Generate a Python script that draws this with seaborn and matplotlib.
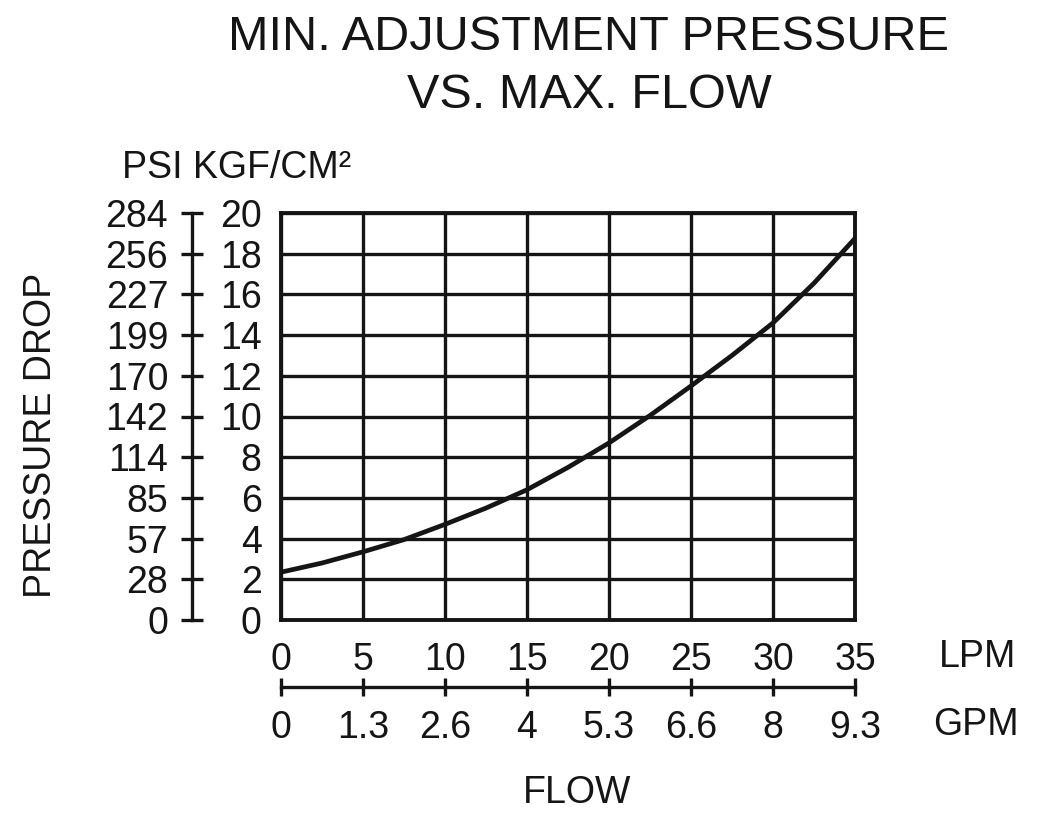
import matplotlib
matplotlib.use("Agg")
import matplotlib.pyplot as plt
import seaborn as sns

# Values
flow_lpm = [0, 2.5, 5, 7.5, 10, 12.5, 15, 17.5, 20, 22.5, 25, 27.5, 30, 32.5, 35]
pressure_kgf = [2.35, 2.8, 3.35, 3.95, 4.7, 5.5, 6.4, 7.5, 8.7, 10.05, 11.5, 13.0, 14.6, 16.55, 18.75]

lpm_ticks = [0, 5, 10, 15, 20, 25, 30, 35]
gpm_labels = ["0", "1.3", "2.6", "4", "5.3", "6.6", "8", "9.3"]
kgf_ticks = [0, 2, 4, 6, 8, 10, 12, 14, 16, 18, 20]
psi_labels = ["0", "28", "57", "85", "114", "142", "170", "199", "227", "256", "284"]

INK = "#151515"
FS = 27

sns.set_theme(style="white")
plt.rcParams["font.family"] = ["Liberation Sans", "DejaVu Sans"]

W, H = 1044, 814
fig = plt.figure(figsize=(W / 100, H / 100), dpi=100)
# plot box: x 281..855, y 213..620 (pixels)
ax = fig.add_axes([281 / W, 1 - 620 / H, (855 - 281) / W, (620 - 213) / H])

sns.lineplot(x=flow_lpm, y=pressure_kgf, ax=ax, color=INK, linewidth=3.4, zorder=5)

ax.set_xlim(0, 35)
ax.set_ylim(0, 20)
ax.set_xticks(lpm_ticks)
ax.set_yticks(kgf_ticks)
ax.grid(True, color=INK, linewidth=2.4)
ax.set_axisbelow(True)
for side in ["left", "right", "top", "bottom"]:
    ax.spines[side].set_visible(True)
    ax.spines[side].set_color(INK)
    ax.spines[side].set_linewidth(2.8)
ax.tick_params(axis="x", length=0, pad=16, labelsize=FS, labelcolor=INK)
ax.tick_params(axis="y", length=0, pad=14, labelsize=FS, labelcolor=INK)
ax.set_xlabel("")
ax.set_ylabel("")

# PSI scale, detached to the left
ax_psi = ax.twinx()
ax_psi.set_ylim(0, 20)
ax_psi.yaxis.tick_left()
ax_psi.set_yticks(kgf_ticks)
ax_psi.set_yticklabels(psi_labels)
for side in ["right", "top", "bottom"]:
    ax_psi.spines[side].set_visible(False)
ax_psi.spines["left"].set_visible(True)
ax_psi.spines["left"].set_position(("outward", 64))
ax_psi.spines["left"].set_color(INK)
ax_psi.spines["left"].set_linewidth(2.4)
ax_psi.tick_params(axis="y", direction="inout", length=16.5, width=2.4, color=INK,
                   pad=9, labelsize=FS, labelcolor=INK)
ax_psi.grid(False)

# GPM scale below the LPM labels
ax_gpm = ax.twiny()
ax_gpm.set_xlim(0, 35)
ax_gpm.xaxis.tick_bottom()
ax_gpm.set_xticks(lpm_ticks)
ax_gpm.set_xticklabels(gpm_labels)
for side in ["left", "right", "top"]:
    ax_gpm.spines[side].set_visible(False)
ax_gpm.spines["bottom"].set_visible(True)
ax_gpm.spines["bottom"].set_position(("outward", 48))
ax_gpm.spines["bottom"].set_color(INK)
ax_gpm.spines["bottom"].set_linewidth(2.4)
ax_gpm.tick_params(axis="x", direction="inout", length=13, width=2.4, color=INK,
                   pad=10, labelsize=FS, labelcolor=INK)
ax_gpm.grid(False)

# titles and axis names
fig.text(589 / W, 1 - 50 / H, "MIN. ADJUSTMENT PRESSURE", ha="center", va="baseline",
         fontsize=35, color=INK)
fig.text(589 / W, 1 - 108 / H, "VS. MAX. FLOW", ha="center", va="baseline",
         fontsize=35, color=INK)
fig.text(122 / W, 1 - 178 / H, "PSI KGF/CM²", ha="left", va="baseline", fontsize=FS, color=INK)
fig.text(41 / W, 1 - 435 / H, "PRESSURE DROP", rotation=90, ha="center", va="center",
         fontsize=FS, color=INK)
fig.text(939 / W, 1 - 667 / H, "LPM", ha="left", va="baseline", fontsize=FS, color=INK)
fig.text(933 / W, 1 - 735 / H, "GPM", ha="left", va="baseline", fontsize=FS, color=INK)
fig.text(577 / W, 1 - 803 / H, "FLOW", ha="center", va="baseline", fontsize=FS, color=INK)

fig.savefig("out.png", dpi=100, facecolor="white")
